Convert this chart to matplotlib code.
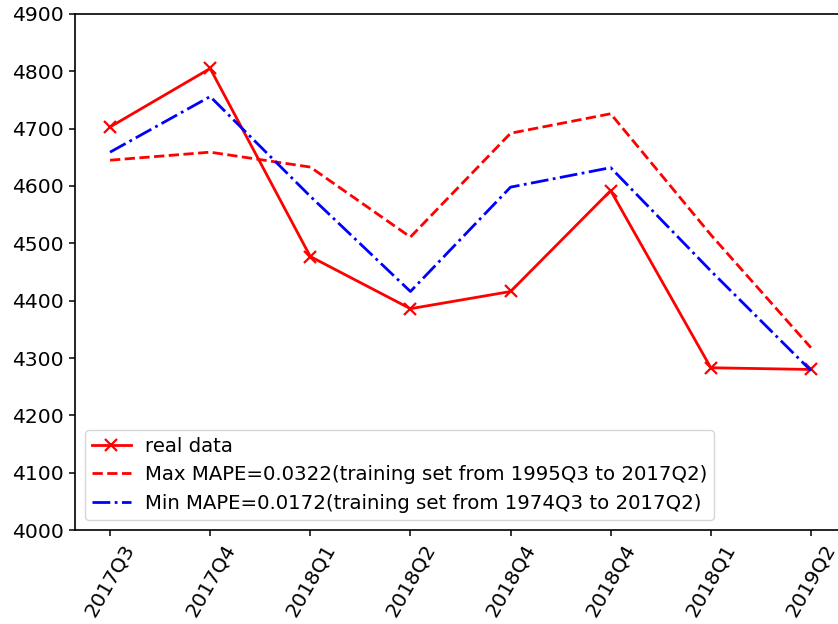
import numpy as np
import matplotlib
matplotlib.use("Agg")
import matplotlib.pyplot as plt

quarters = ["2017Q3", "2017Q4", "2018Q1", "2018Q2", "2018Q4", "2018Q4", "2018Q1", "2019Q2"]
real_data = [4703, 4805, 4477, 4386, 4416, 4592, 4283, 4280]
max_mape = [4645, 4659, 4633, 4511, 4692, 4726, 4515, 4318]
min_mape = [4659, 4756, 4582, 4416, 4598, 4632, 4452, 4278]

max_label = "Max MAPE=0.0322(training set from 1995Q3 to 2017Q2)"
min_label = "Min MAPE=0.0172(training set from 1974Q3 to 2017Q2)"

plt.rcParams.update({
    'font.size': 14.2,
    'axes.linewidth': 1.2,
    'xtick.major.size': 4.5,
    'ytick.major.size': 4.5,
    'xtick.major.width': 1.1,
    'ytick.major.width': 1.1,
})

fig = plt.figure(figsize=(8.38, 6.24), dpi=100)
ax = fig.add_axes([0.0895, 0.1506, 0.920, 0.827])

x = np.arange(len(quarters))
ax.plot(x, real_data, color='red', marker='x', markersize=9, markeredgewidth=1.6,
        linewidth=2, linestyle='-', label="real data")
ax.plot(x, max_mape, color='red', linestyle='--', linewidth=2, label=max_label)
ax.plot(x, min_mape, color='blue', linestyle='-.', linewidth=2, label=min_label)

ax.set_ylim(4000, 4900)
ax.set_yticks(np.arange(4000, 4901, 100))
ax.set_xticks(x)
ax.set_xticklabels(quarters, rotation=60)
ax.tick_params(labelsize=14.6)
ax.legend(loc='lower left', fontsize=14.2, borderpad=0.35, handletextpad=0.7)

plt.savefig("out.png", dpi=100)
